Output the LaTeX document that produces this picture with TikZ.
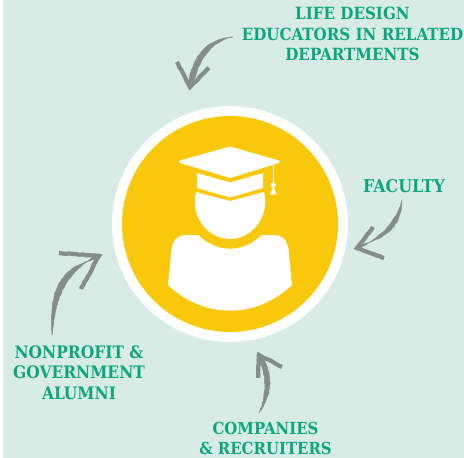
\documentclass[tikz,border=0pt]{standalone}
\usepackage{fontspec}
\setmainfont{DejaVu Serif Condensed}[BoldFont={DejaVu Serif Condensed Bold}]
\usetikzlibrary{decorations.pathmorphing}
\definecolor{paleback}{HTML}{D8ECE5}
\definecolor{capyellow}{HTML}{F9C80A}
\definecolor{labelgreen}{HTML}{0BA77C}
\definecolor{chalkgrey}{HTML}{858C8C}
\tikzset{
    grouplabel/.style={text=labelgreen,align=center,inner sep=0pt,font=\fontsize{#1}{20.5}\selectfont\bfseries},
    chalk/.style={draw=chalkgrey,fill=chalkgrey,line width=0.5pt,decorate,decoration={random steps,segment length=2.5pt,amplitude=0.35pt}},
    barb/.style={draw=chalkgrey,line width=4.2pt,decorate,decoration={random steps,segment length=3pt,amplitude=0.4pt}},
}
\begin{document}
\begin{tikzpicture}[x=1pt,y=-1pt]
\useasboundingbox (0,0) rectangle (464,458);
\fill[paleback] (3,0) rectangle (464,458);

\fill[white] (230,224) circle (118);
\fill[capyellow] (230,224) circle (108);

% person
\begin{scope}[fill=white]
    \fill (230,146.5) -- (279,160.5) to[bend left=60] (279,163) -- (230,178) -- (180,163) to[bend left=60] (180,160.5) -- cycle;
    \fill (197,173) -- (230,182.5) -- (263,173) -- (263,188) -- (230,197.5) -- (197,188) -- cycle;
    \fill (196,192) -- (230,201) -- (264,192) .. controls (270,214) and (254,239) .. (230,239)
        .. controls (206,239) and (190,214) .. (196,192);
    \fill (168,285) .. controls (186,302) and (208,310.7) .. (230,310.7) .. controls (252,310.7) and (274,302) .. (292,285)
        -- (288.5,249) .. controls (287,240) and (282,235) .. (275,235) -- (262,235)
        .. controls (252,244) and (242,248.7) .. (230,248.7) .. controls (218,248.7) and (208,244) .. (198,235)
        -- (185,235) .. controls (178,235) and (173,240) .. (171.5,249) -- cycle;
    \draw[white,line width=0.9pt] (273.3,163) -- (273.3,184);
    \fill (273.3,185) circle (2.6);
    \fill (273.3,186) -- (276.5,194.5) -- (270,194.5) -- cycle;
\end{scope}

\node[grouplabel=16.8] (lifedesign) at (352.5,34) {LIFE DESIGN\\EDUCATORS IN RELATED\\DEPARTMENTS};
\node[grouplabel=17.6] (faculty) at (404,186) {FACULTY};
\node[grouplabel=17.2] (nonprofit) at (79,372.5) {NONPROFIT \&\\GOVERNMENT\\ALUMNI};
\node[grouplabel=16.6] (companies) at (265.5,438.5) {COMPANIES\\\& RECRUITERS};

\coordinate (topTail) at (233,37);
\coordinate (topTip) at (190,87);
\coordinate (topBarbA) at (177,62);
\coordinate (topBarbB) at (209,68);
\coordinate (rightTail) at (402,200);
\coordinate (rightTip) at (357,248);
\coordinate (rightBarbA) at (373,227);
\coordinate (rightBarbB) at (384,258);
\coordinate (bottomTail) at (259,413);
\coordinate (bottomTip) at (259,355);
\coordinate (bottomBarbA) at (258,378);
\coordinate (bottomBarbB) at (282,367);
\coordinate (leftTail) at (52,335);
\coordinate (leftTip) at (99,256);
\coordinate (leftBarbA) at (59,253);
\coordinate (leftBarbB) at (81,289);

% arrows
\fill[chalk] (topTail) .. controls (212,41) and (199,58) .. ([xshift=2.2pt]topTip) -- ([xshift=-2.2pt]topTip) .. controls (192,56) and (206,39) .. (topTail);
\draw[barb] (topBarbA) -- (topTip) -- (topBarbB);

\fill[chalk] (rightTail) .. controls (401,222) and (392,238) .. ([yshift=2.2pt]rightTip) -- ([yshift=-2.2pt]rightTip) .. controls (386,233) and (395,222) .. (rightTail);
\draw[barb] (rightBarbA) -- (rightTip) -- (rightBarbB);

\fill[chalk] (bottomTail) .. controls (274,392) and (272,372) .. ([xshift=2.2pt]bottomTip) -- ([xshift=-2.2pt]bottomTip) .. controls (266,372) and (268,392) .. (bottomTail);
\draw[barb] (bottomBarbA) -- (bottomTip) -- (bottomBarbB);

\fill[chalk] (leftTail) .. controls (49,295) and (57,266) .. ([yshift=-2.4pt]leftTip) -- ([yshift=2.4pt]leftTip) .. controls (65,274) and (56,295) .. (leftTail);
\draw[barb] (leftBarbA) -- (leftTip) -- (leftBarbB);
\end{tikzpicture}
\end{document}
